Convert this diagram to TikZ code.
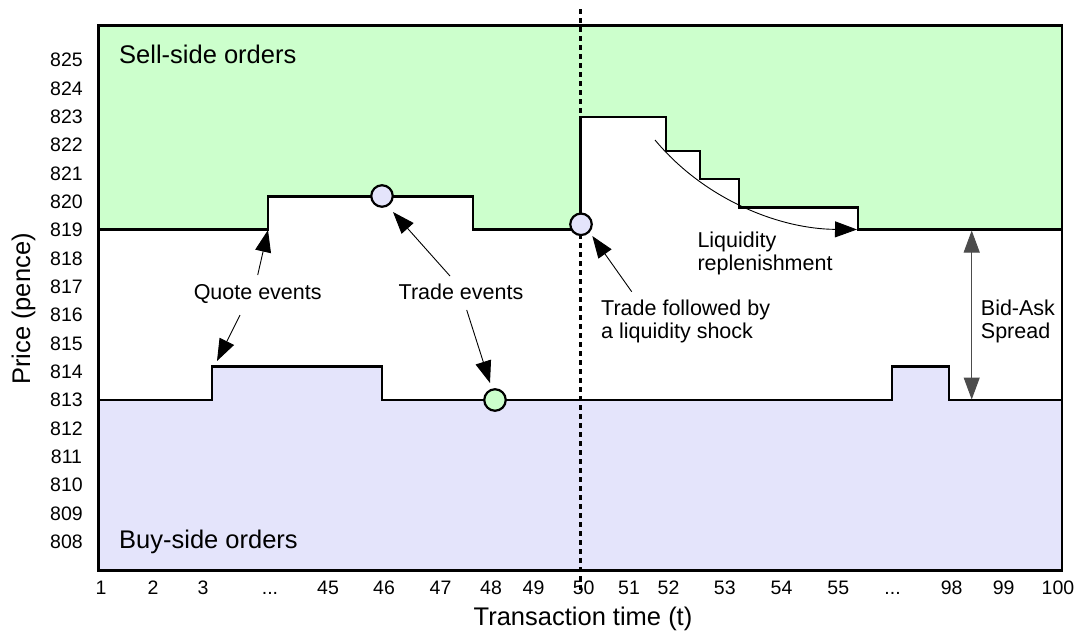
\documentclass[tikz,border=0pt]{standalone}
\usepackage{fontspec}
\setmainfont{Liberation Sans}
\usetikzlibrary{arrows.meta}

\definecolor{sellfill}{RGB}{204,255,204}
\definecolor{buyfill}{RGB}{228,228,251}

\begin{document}
\begin{tikzpicture}[x=1pt, y=-1pt,
  book/.style={line width=2.6pt, line join=miter, line cap=butt},
  framebox/.style={line width=2.8pt},
  pointer/.style={line width=0.9pt, -{Triangle[length=22pt, width=16pt]}},
  spreadarrow/.style={line width=1pt, black!70, {Triangle[length=22pt, width=16pt]}-{Triangle[length=22pt, width=16pt]}},
  eventdot/.style={circle, draw, line width=2.2pt, minimum size=21.5pt, inner sep=0pt},
  note/.style={font=\fontsize{21.5}{23}\selectfont, inner sep=0pt, align=left},
  ticklabel/.style={font=\fontsize{19.5}{21}\selectfont, inner sep=0pt},
  axislabel/.style={font=\fontsize{25.5}{28}\selectfont, inner sep=0pt},
  regionlabel/.style={font=\fontsize{25.5}{28}\selectfont, inner sep=0pt, anchor=base west}]

\useasboundingbox (0,0) rectangle (1078,632);

% ask (sell-side) and bid (buy-side) boundaries
\def\askpath{(98.5,229.5) -- (268,229.5) -- (268,196.5) -- (473,196.5) -- (473,229.5)
  -- (580.5,229.5) -- (580.5,117) -- (666,117) -- (666,151) -- (700,151) -- (700,179)
  -- (739,179) -- (739,207.5) -- (858,207.5) -- (858,229.5) -- (1062,229.5)}
\def\bidpath{(98.5,400) -- (212,400) -- (212,366.5) -- (382,366.5) -- (382,400)
  -- (892,400) -- (892,366.5) -- (949,366.5) -- (949,400) -- (1062,400)}

% order regions
\fill[sellfill] (98.5,25.5) -- \askpath -- (1062,25.5) -- cycle;
\fill[buyfill] \bidpath -- (1062,570.5) -- (98.5,570.5) -- cycle;

% time of the liquidity shock
\coordinate (shocktop) at (580.5,9);
\coordinate (shockbot) at (580.5,593);
\draw[line width=2.6pt, dash pattern=on 5pt off 4pt] (shocktop) -- (shockbot);

\draw[book] \askpath;
\draw[book] \bidpath;

% plot frame
\draw[framebox] (98.5,25.5) rectangle (1062,570.5);

% trades
\node[eventdot, fill=buyfill] (trade1) at (382,196) {};
\node[eventdot, fill=buyfill] (trade2) at (581,224.3) {};
\node[eventdot, fill=sellfill] (trade3) at (495,400) {};

% region labels
\node[regionlabel] (sell) at (119,63.5) {Sell-side orders};
\node[regionlabel] (buy) at (119,548.3) {Buy-side orders};

% annotations (multi-line nodes sit on the baseline of their last line)
\node[note, anchor=base] (quote) at (257.7,299) {Quote events};
\node[note, anchor=base] (trades) at (461,299) {Trade events};
\node[note, anchor=base west] (shock) at (601,338.5) {Trade followed by\\a liquidity shock};
\node[note, anchor=base west] (refill) at (697.3,270) {Liquidity\\replenishment};
\node[note, anchor=base west] (spread) at (980.7,338) {Bid-Ask\\Spread};

\coordinate (quoteup) at (257.7,275);
\coordinate (quotedown) at (240,315);
\coordinate (askjump) at (268,230);
\coordinate (bidjump) at (217,361);
\coordinate (tradeup) at (450,276);
\coordinate (tradedown) at (466.7,310);
\coordinate (trade1tip) at (393,212);
\coordinate (trade3tip) at (490,383);
\coordinate (shocktail) at (631.7,291.7);
\coordinate (trade2tip) at (592.3,236);
\coordinate (refillstart) at (655,140);
\coordinate (refillend) at (857,229.5);
\coordinate (asktop) at (971.7,230.5);
\coordinate (bidbot) at (971.7,399.5);

\draw[pointer] (quoteup) -- (askjump);
\draw[pointer] (quotedown) -- (bidjump);
\draw[pointer] (tradeup) -- (trade1tip);
\draw[pointer] (tradedown) -- (trade3tip);
\draw[pointer] (shocktail) -- (trade2tip);
\draw[pointer] (refillstart) .. controls (705,200) and (780,229) .. (refillend);
\draw[spreadarrow] (asktop) -- (bidbot);

% price axis
\foreach \p [count=\i from 0] in {825,824,...,808}
  \node[ticklabel] (price\p) at (66.5,60+28.33*\i) {\p};
\node[axislabel, rotate=90, anchor=base] (priceaxis) at (30,309) {Price (pence)};

% transaction-time axis
\foreach \t/\x [count=\i] in {1/101,2/153,3/203,{...}/270,45/328,46/384,47/440.5,48/491,49/533.5,50/583.6,51/629,52/668.5,53/724.8,54/781.5,55/838.3,{...}/892.6,98/951.7,99/1003.7,100/1058}
  \node[ticklabel, anchor=base] (time\i) at (\x,594.5) {\t};
\node[axislabel, anchor=base] (timeaxis) at (583,625) {Transaction time (t)};

\end{tikzpicture}
\end{document}
